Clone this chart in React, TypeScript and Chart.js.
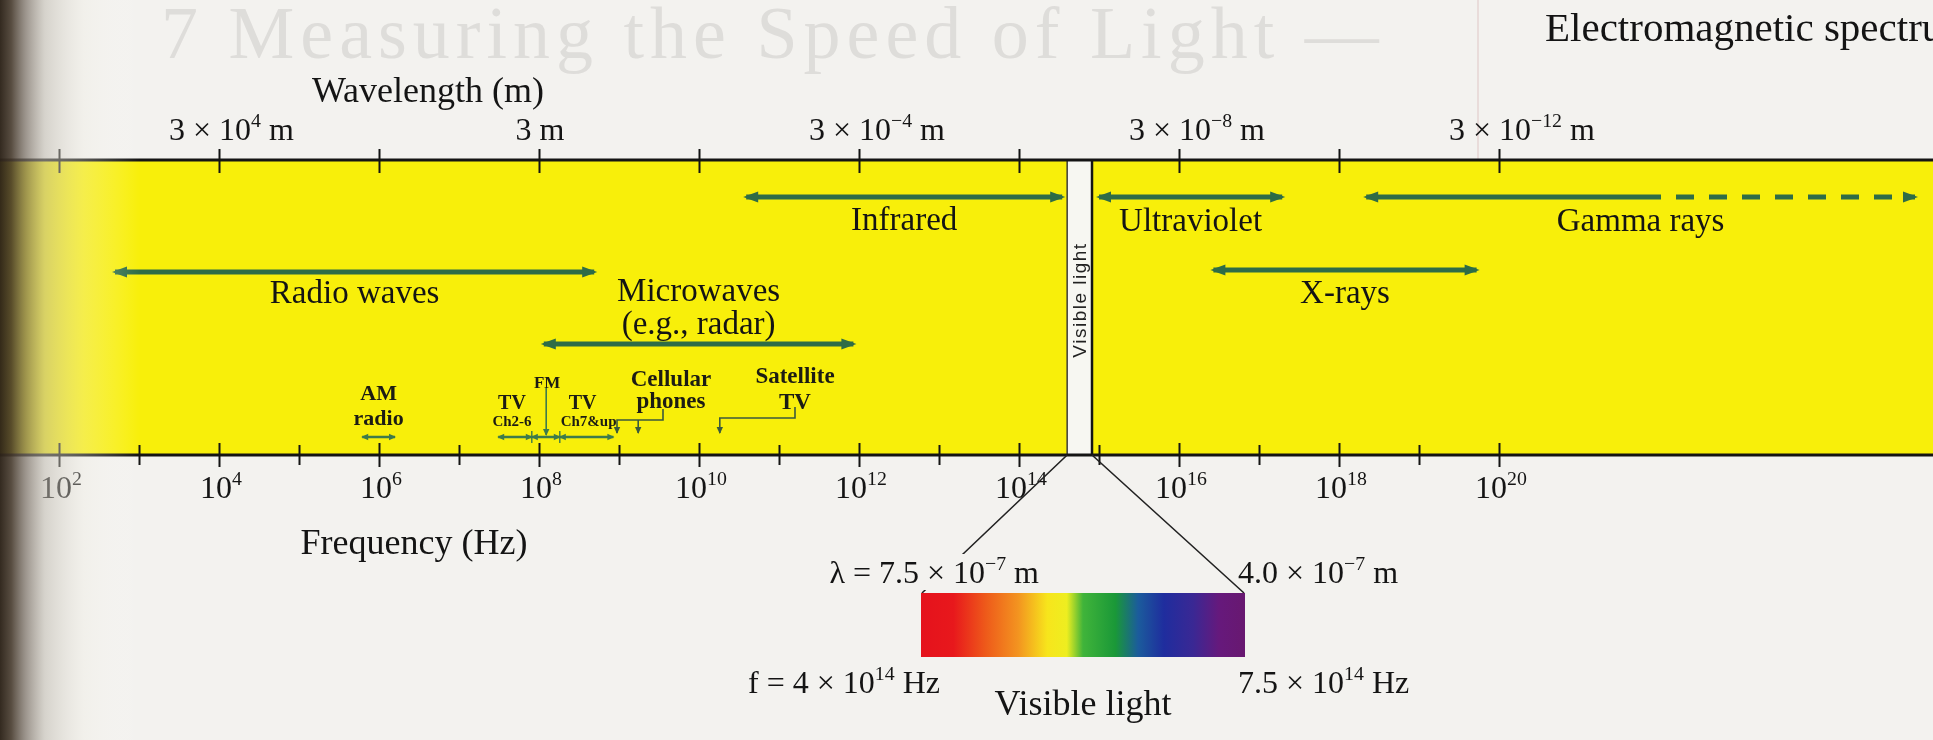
import React, { useEffect, useRef } from 'react';
import { Chart, registerables } from 'chart.js';

Chart.register(...registerables);

const W = 1933;
const H = 740;

// ---------------- DATA ----------------
// exponents of frequency (Hz), i.e. log10(f)
const freqTickExps = [2, 3, 4, 5, 6, 7, 8, 9, 10, 11, 12, 13, 14, 15, 16, 17, 18, 19, 20];
const freqLabelExps = [2, 4, 6, 8, 10, 12, 14, 16, 18, 20];
const wavelengthTickExps = [2, 4, 6, 8, 10, 12, 14, 16, 18, 20];
const wavelengthLabelFreqExps = [4, 8, 12, 16, 20];
const wavelengthLabelMantissas = ['3', '3', '3', '3', '3'];
const wavelengthLabelPowers = ['4', '0', '−4', '−8', '−12'];

const bandNames = ['Radio waves', 'Microwaves', 'Infrared', 'Ultraviolet', 'X-rays', 'Gamma rays'];
const bandFromExps = [2.7, 8.06, 10.59, 15.0, 16.43, 18.34];
const bandToExps = [8.69, 11.93, 14.54, 17.29, 19.72, 21.8];
const gammaDashedToExp = 25.2;
const microwaveNote = '(e.g., radar)';

const visibleFromHz = 4e14;
const visibleToHz = 7.5e14;
const visibleLongWavelength = '7.5';
const visibleShortWavelength = '4.0';

const amRangeExps = [5.79, 6.2];
const tvLowRangeExps = [7.49, 7.91];
const fmRangeExps = [7.91, 8.26];
const tvHighRangeExps = [8.26, 8.93];
const fmMarkerExp = 8.09;
const cellularMarkerExps = [8.975, 9.24];
const cellularBracketEndExp = 9.55;
const satelliteMarkerExp = 10.26;
const satelliteBracketEndExp = 11.2;

// ---------------- LAYOUT / STYLE ----------------
const X_MIN = 1.2625;
const X_MAX = X_MIN + W / 80;
const L = {
  topAxis: 160,
  bottomAxis: 455,
  bandRows: [272, 344, 197, 197, 270, 197],
  bandLabelBase: [303, 301, 230, 231, 303, 231],
  subArrow: 437,
  bracketCell: 420,
  bracketSat: 418,
  bracketTop: 409,
  markerBottom: 433,
  barLeft: 921,
  barRight: 1245,
  barTop: 593,
  barBottom: 657,
};
const GREEN = '#2e6c47';
const YELLOW = '#f8ef0a';
const PAGE = '#f3f2ef';
const INK = '#141414';
const SERIF = '"Liberation Serif", "Times New Roman", serif';
const SANS = '"Liberation Sans", Arial, sans-serif';

type Seg = { t: string; sup?: boolean };

function rich(ctx: CanvasRenderingContext2D, segs: Seg[], x: number, y: number, align: string, size: number, weight = '', family = SERIF) {
  const supSize = size * 0.62;
  const widths = segs.map((s) => {
    ctx.font = `${weight} ${s.sup ? supSize : size}px ${family}`;
    return ctx.measureText(s.t).width;
  });
  const total = widths.reduce((a, b) => a + b, 0);
  let cx = align === 'left' ? x : align === 'center' ? x - total / 2 : x - total;
  const start = cx;
  ctx.textAlign = 'left';
  ctx.textBaseline = 'alphabetic';
  segs.forEach((s, i) => {
    ctx.font = `${weight} ${s.sup ? supSize : size}px ${family}`;
    ctx.fillText(s.t, cx, s.sup ? y - size * 0.4 : y);
    cx += widths[i];
  });
  return { left: start, right: start + total };
}

function head(ctx: CanvasRenderingContext2D, tx: number, ty: number, dx: number, dy: number, len: number, half: number, color: string) {
  const px = -dy, py = dx;
  ctx.fillStyle = color;
  ctx.beginPath();
  ctx.moveTo(tx, ty);
  ctx.lineTo(tx - dx * len + px * half, ty - dy * len + py * half);
  ctx.lineTo(tx - dx * len - px * half, ty - dy * len - py * half);
  ctx.closePath();
  ctx.fill();
}

const line2 = (a: number, b: number, y: number) => [{ x: a, y }, { x: b, y }];

export default function App() {
  const ref = useRef<HTMLCanvasElement | null>(null);

  useEffect(() => {
    document.body.style.margin = '0';
    const canvas = ref.current;
    if (!canvas) return;

    const datasets: any[] = [];
    bandNames.forEach((name, i) => {
      datasets.push({
        label: name,
        data: line2(bandFromExps[i], bandToExps[i], L.bandRows[i]),
        borderColor: GREEN,
        borderWidth: 5,
        pointRadius: 0,
        arrowStart: true,
        arrowEnd: name !== 'Gamma rays',
        big: true,
      });
    });
    datasets.push({
      label: 'Gamma rays (extends)',
      data: line2(bandToExps[5], gammaDashedToExp, L.bandRows[5]),
      borderColor: GREEN,
      borderWidth: 5,
      borderDash: [18, 15],
      pointRadius: 0,
      arrowEnd: true,
      big: true,
    });
    const smalls = [
      ['AM radio', amRangeExps],
      ['TV Ch2-6', tvLowRangeExps],
      ['FM', fmRangeExps],
      ['TV Ch7&up', tvHighRangeExps],
    ];
    smalls.forEach(([name, r]: any) => {
      datasets.push({
        label: name,
        data: line2(r[0], r[1], L.subArrow),
        borderColor: '#3d7a4c',
        borderWidth: 2.5,
        pointRadius: 0,
        arrowStart: true,
        arrowEnd: true,
      });
    });
    datasets.push({
      label: 'FM marker',
      data: [{ x: fmMarkerExp, y: 388 }, { x: fmMarkerExp, y: L.subArrow - 2 }],
      borderColor: '#3d7a4c',
      borderWidth: 1.6,
      pointRadius: 0,
      arrowEnd: true,
    });
    datasets.push({
      label: 'Cellular phones',
      data: [
        { x: cellularMarkerExps[0], y: L.markerBottom },
        { x: cellularMarkerExps[0], y: L.bracketCell },
        { x: cellularBracketEndExp, y: L.bracketCell },
        { x: cellularBracketEndExp, y: L.bracketTop },
      ],
      borderColor: '#3b5a3c',
      borderWidth: 1.6,
      pointRadius: 0,
      arrowStart: true,
    });
    datasets.push({
      label: 'Cellular phones 2',
      data: [
        { x: cellularMarkerExps[1], y: L.bracketCell },
        { x: cellularMarkerExps[1], y: L.markerBottom },
      ],
      borderColor: '#3b5a3c',
      borderWidth: 1.6,
      pointRadius: 0,
      arrowEnd: true,
    });
    datasets.push({
      label: 'Satellite TV',
      data: [
        { x: satelliteMarkerExp, y: L.markerBottom },
        { x: satelliteMarkerExp, y: L.bracketSat },
        { x: satelliteBracketEndExp, y: L.bracketSat },
        { x: satelliteBracketEndExp, y: L.bracketTop - 2 },
      ],
      borderColor: '#3b5a3c',
      borderWidth: 1.6,
      pointRadius: 0,
      arrowStart: true,
    });

    const spectrumPlugin = {
      id: 'spectrum',
      beforeDatasetsDraw(chart: any) {
        const ctx: CanvasRenderingContext2D = chart.ctx;
        const xs = chart.scales.x;
        const X = (v: number) => xs.getPixelForValue(v);
        ctx.save();
        // page
        ctx.fillStyle = PAGE;
        ctx.fillRect(0, 0, W, H);
        // faint bleed-through heading
        ctx.fillStyle = 'rgba(110,100,100,0.15)';
        ctx.font = `74px ${SERIF}`;
        (ctx as any).letterSpacing = '6px';
        ctx.textAlign = 'left';
        ctx.textBaseline = 'alphabetic';
        ctx.fillText('7 Measuring the Speed of Light —', 161, 58);
        (ctx as any).letterSpacing = '0px';
        ctx.strokeStyle = 'rgba(190,120,120,0.18)';
        ctx.lineWidth = 2;
        ctx.beginPath();
        ctx.moveTo(1478, 0);
        ctx.lineTo(1478, 160);
        ctx.stroke();
        // yellow band
        ctx.fillStyle = YELLOW;
        ctx.fillRect(0, L.topAxis, W, L.bottomAxis - L.topAxis);
        // visible light strip
        const v0 = X(Math.log10(visibleFromHz));
        const v1 = X(Math.log10(visibleToHz)) + 3;
        ctx.fillStyle = '#f7f7f2';
        ctx.fillRect(v0, L.topAxis, v1 - v0, L.bottomAxis - L.topAxis);
        ctx.strokeStyle = '#3a3a3a';
        ctx.lineWidth = 1.5;
        ctx.beginPath();
        ctx.moveTo(v0, L.topAxis);
        ctx.lineTo(v0, L.bottomAxis);
        ctx.stroke();
        ctx.strokeStyle = INK;
        ctx.lineWidth = 2.5;
        ctx.beginPath();
        ctx.moveTo(v1, L.topAxis);
        ctx.lineTo(v1, L.bottomAxis);
        ctx.stroke();
        ctx.save();
        ctx.translate((v0 + v1) / 2 + 1, 300);
        ctx.rotate(-Math.PI / 2);
        ctx.fillStyle = '#222';
        ctx.font = `19px ${SANS}`;
        (ctx as any).letterSpacing = '1.5px';
        ctx.textAlign = 'center';
        ctx.textBaseline = 'middle';
        ctx.fillText('Visible light', 0, 0);
        (ctx as any).letterSpacing = '0px';
        ctx.restore();
        // axes
        ctx.strokeStyle = INK;
        ctx.lineWidth = 3;
        ctx.beginPath();
        ctx.moveTo(0, L.topAxis);
        ctx.lineTo(W, L.topAxis);
        ctx.moveTo(0, L.bottomAxis);
        ctx.lineTo(W, L.bottomAxis);
        ctx.stroke();
        ctx.lineWidth = 2;
        ctx.beginPath();
        wavelengthTickExps.forEach((e) => {
          const x = Math.round(X(e)) + 0.5;
          ctx.moveTo(x, L.topAxis - 11);
          ctx.lineTo(x, L.topAxis + 13);
        });
        freqTickExps.forEach((e) => {
          const x = Math.round(X(e)) + 0.5;
          const big = e % 2 === 0;
          ctx.moveTo(x, L.bottomAxis - (big ? 12 : 10));
          ctx.lineTo(x, L.bottomAxis + (big ? 12 : 10));
        });
        ctx.stroke();
        ctx.restore();
      },
      afterDatasetsDraw(chart: any) {
        const ctx: CanvasRenderingContext2D = chart.ctx;
        const xs = chart.scales.x;
        const X = (v: number) => xs.getPixelForValue(v);
        ctx.save();
        // arrowheads
        chart.data.datasets.forEach((ds: any, i: number) => {
          const pts = chart.getDatasetMeta(i).data;
          const big = !!ds.big;
          const len = big ? 15 : 7;
          const half = big ? 5.5 : 3.2;
          const draw = (a: any, b: any) => {
            const dx = a.x - b.x, dy = a.y - b.y;
            const d = Math.hypot(dx, dy) || 1;
            head(ctx, a.x + (dx / d) * (big ? 3 : 1), a.y + (dy / d) * (big ? 3 : 1), dx / d, dy / d, len, half, ds.borderColor);
          };
          if (ds.arrowStart) draw(pts[0], pts[1]);
          if (ds.arrowEnd) draw(pts[pts.length - 1], pts[pts.length - 2]);
        });
        // TV/FM dividers
        ctx.strokeStyle = '#3d7a4c';
        ctx.lineWidth = 1.4;
        ctx.beginPath();
        [tvLowRangeExps[1], fmRangeExps[1]].forEach((e) => {
          const x = X(e);
          ctx.moveTo(x, L.subArrow - 6);
          ctx.lineTo(x, L.subArrow + 6);
        });
        ctx.stroke();

        ctx.fillStyle = INK;
        // title
        ctx.font = `41px ${SERIF}`;
        ctx.textAlign = 'left';
        ctx.textBaseline = 'alphabetic';
        ctx.fillText('Electromagnetic spectrum', 1545, 41);
        // axis titles
        ctx.font = `36px ${SERIF}`;
        ctx.textAlign = 'center';
        ctx.fillText('Wavelength (m)', 428, 102);
        ctx.fillText('Frequency (Hz)', 414, 554);
        // wavelength labels
        wavelengthLabelFreqExps.forEach((e, i) => {
          const x = X(e);
          const p = wavelengthLabelPowers[i];
          if (p === '0') {
            rich(ctx, [{ t: `${wavelengthLabelMantissas[i]} m` }], x + 1, 140, 'center', 32);
          } else {
            ctx.font = `32px ${SERIF}`;
            const pre = `${wavelengthLabelMantissas[i]} × `;
            const w = ctx.measureText(pre).width;
            rich(ctx, [{ t: pre }, { t: '10' }, { t: p, sup: true }, { t: ' m' }], x - w, 140, 'left', 32);
          }
        });
        // frequency labels
        freqLabelExps.forEach((e) => {
          rich(ctx, [{ t: '10' }, { t: String(e), sup: true }], X(e) + 2, 498, 'center', 32);
        });
        // band labels
        bandNames.forEach((name, i) => {
          const to = name === 'Gamma rays' ? gammaDashedToExp : bandToExps[i];
          const cx = X((bandFromExps[i] + to) / 2);
          ctx.font = `33px ${SERIF}`;
          ctx.textAlign = 'center';
          ctx.fillText(name, cx, L.bandLabelBase[i]);
          if (name === 'Microwaves') ctx.fillText(microwaveNote, cx, 334);
        });
        // small labels
        const mid = (r: number[]) => X((r[0] + r[1]) / 2);
        ctx.fillStyle = '#1c1c14';
        ctx.textAlign = 'center';
        ctx.font = `bold 22px ${SERIF}`;
        ctx.fillText('AM', mid(amRangeExps), 400);
        ctx.fillText('radio', mid(amRangeExps), 425);
        ctx.font = `bold 20px ${SERIF}`;
        ctx.fillText('TV', mid(tvLowRangeExps) - 3, 409);
        ctx.fillText('TV', mid(tvHighRangeExps) - 4, 409);
        ctx.font = `bold 15px ${SERIF}`;
        ctx.fillText('Ch2-6', mid(tvLowRangeExps) - 3, 426);
        ctx.fillText('Ch7&up', mid(tvHighRangeExps) + 2, 426);
        ctx.font = `bold 17px ${SERIF}`;
        ctx.fillText('FM', X(fmMarkerExp) + 1, 388);
        ctx.font = `bold 23px ${SERIF}`;
        ctx.fillText('Cellular', X(cellularBracketEndExp) + 8, 386);
        ctx.fillText('phones', X(cellularBracketEndExp) + 8, 408);
        ctx.fillText('Satellite', X(satelliteBracketEndExp), 383);
        ctx.fillText('TV', X(satelliteBracketEndExp), 409);

        // fan lines to the spectrum bar
        const v0 = X(Math.log10(visibleFromHz));
        const v1 = X(Math.log10(visibleToHz)) + 3;
        ctx.strokeStyle = '#222';
        ctx.lineWidth = 1.6;
        ctx.beginPath();
        ctx.moveTo(v0, L.bottomAxis);
        ctx.lineTo(L.barLeft + 1, L.barTop);
        ctx.moveTo(v1, L.bottomAxis);
        ctx.lineTo(L.barRight - 1, L.barTop);
        ctx.stroke();
        // mask behind lambda label
        const lamSegs: Seg[] = [{ t: 'λ = ' + visibleLongWavelength + ' × 10' }, { t: '−7', sup: true }, { t: ' m' }];
        let lw = 0;
        lamSegs.forEach((s) => {
          ctx.font = `${s.sup ? 32 * 0.62 : 32}px ${SERIF}`;
          lw += ctx.measureText(s.t).width;
        });
        ctx.fillStyle = PAGE;
        ctx.fillRect(1039 - lw - 4, 554, lw + 6, 36);
        ctx.fillStyle = INK;
        rich(ctx, lamSegs, 1039, 583, 'right', 32);
        rich(ctx, [{ t: visibleShortWavelength + ' × 10' }, { t: '−7', sup: true }, { t: ' m' }], 1238, 583, 'left', 32);
        rich(ctx, [{ t: 'f = 4 × 10' }, { t: '14', sup: true }, { t: ' Hz' }], 940, 693, 'right', 32);
        rich(ctx, [{ t: '7.5 × 10' }, { t: '14', sup: true }, { t: ' Hz' }], 1238, 693, 'left', 32);
        ctx.font = `36px ${SERIF}`;
        ctx.textAlign = 'center';
        ctx.fillText('Visible light', (L.barLeft + L.barRight) / 2, 715);

        // spectrum bar
        const g = ctx.createLinearGradient(L.barLeft, 0, L.barRight, 0);
        g.addColorStop(0, '#e5121c');
        g.addColorStop(0.1, '#e8181c');
        g.addColorStop(0.2, '#ee5a1a');
        g.addColorStop(0.3, '#f39420');
        g.addColorStop(0.39, '#f7e51c');
        g.addColorStop(0.45, '#eeee20');
        g.addColorStop(0.5, '#40b43a');
        g.addColorStop(0.6, '#1a9838');
        g.addColorStop(0.67, '#1b5c9c');
        g.addColorStop(0.75, '#1f2d9e');
        g.addColorStop(0.84, '#3a2894');
        g.addColorStop(0.92, '#66197c');
        g.addColorStop(1, '#681870');
        ctx.fillStyle = g;
        ctx.fillRect(L.barLeft, L.barTop, L.barRight - L.barLeft, L.barBottom - L.barTop);

        // book-binding shadow on the left
        const sh = ctx.createLinearGradient(0, 0, 140, 0);
        sh.addColorStop(0, 'rgba(45,35,25,0.97)');
        sh.addColorStop(0.08, 'rgba(70,58,45,0.9)');
        sh.addColorStop(0.18, 'rgba(120,110,100,0.72)');
        sh.addColorStop(0.32, 'rgba(190,185,175,0.55)');
        sh.addColorStop(0.6, 'rgba(238,235,225,0.3)');
        sh.addColorStop(1, 'rgba(255,255,255,0)');
        ctx.fillStyle = sh;
        ctx.fillRect(0, 0, 140, H);
        ctx.restore();
      },
    };

    const chart = new Chart(canvas, {
      type: 'line',
      data: { datasets },
      options: {
        animation: false,
        responsive: false,
        devicePixelRatio: 1,
        events: [],
        layout: { padding: 0 },
        plugins: { legend: { display: false }, tooltip: { enabled: false } },
        elements: { line: { tension: 0, fill: false } },
        scales: {
          x: { type: 'linear', min: X_MIN, max: X_MAX, display: false },
          y: { type: 'linear', min: 0, max: H, reverse: true, display: false },
        },
      },
      plugins: [spectrumPlugin],
    } as any);
    return () => chart.destroy();
  }, []);

  return <canvas ref={ref} width={W} height={H} style={{ display: 'block', width: W, height: H }} />;
}
